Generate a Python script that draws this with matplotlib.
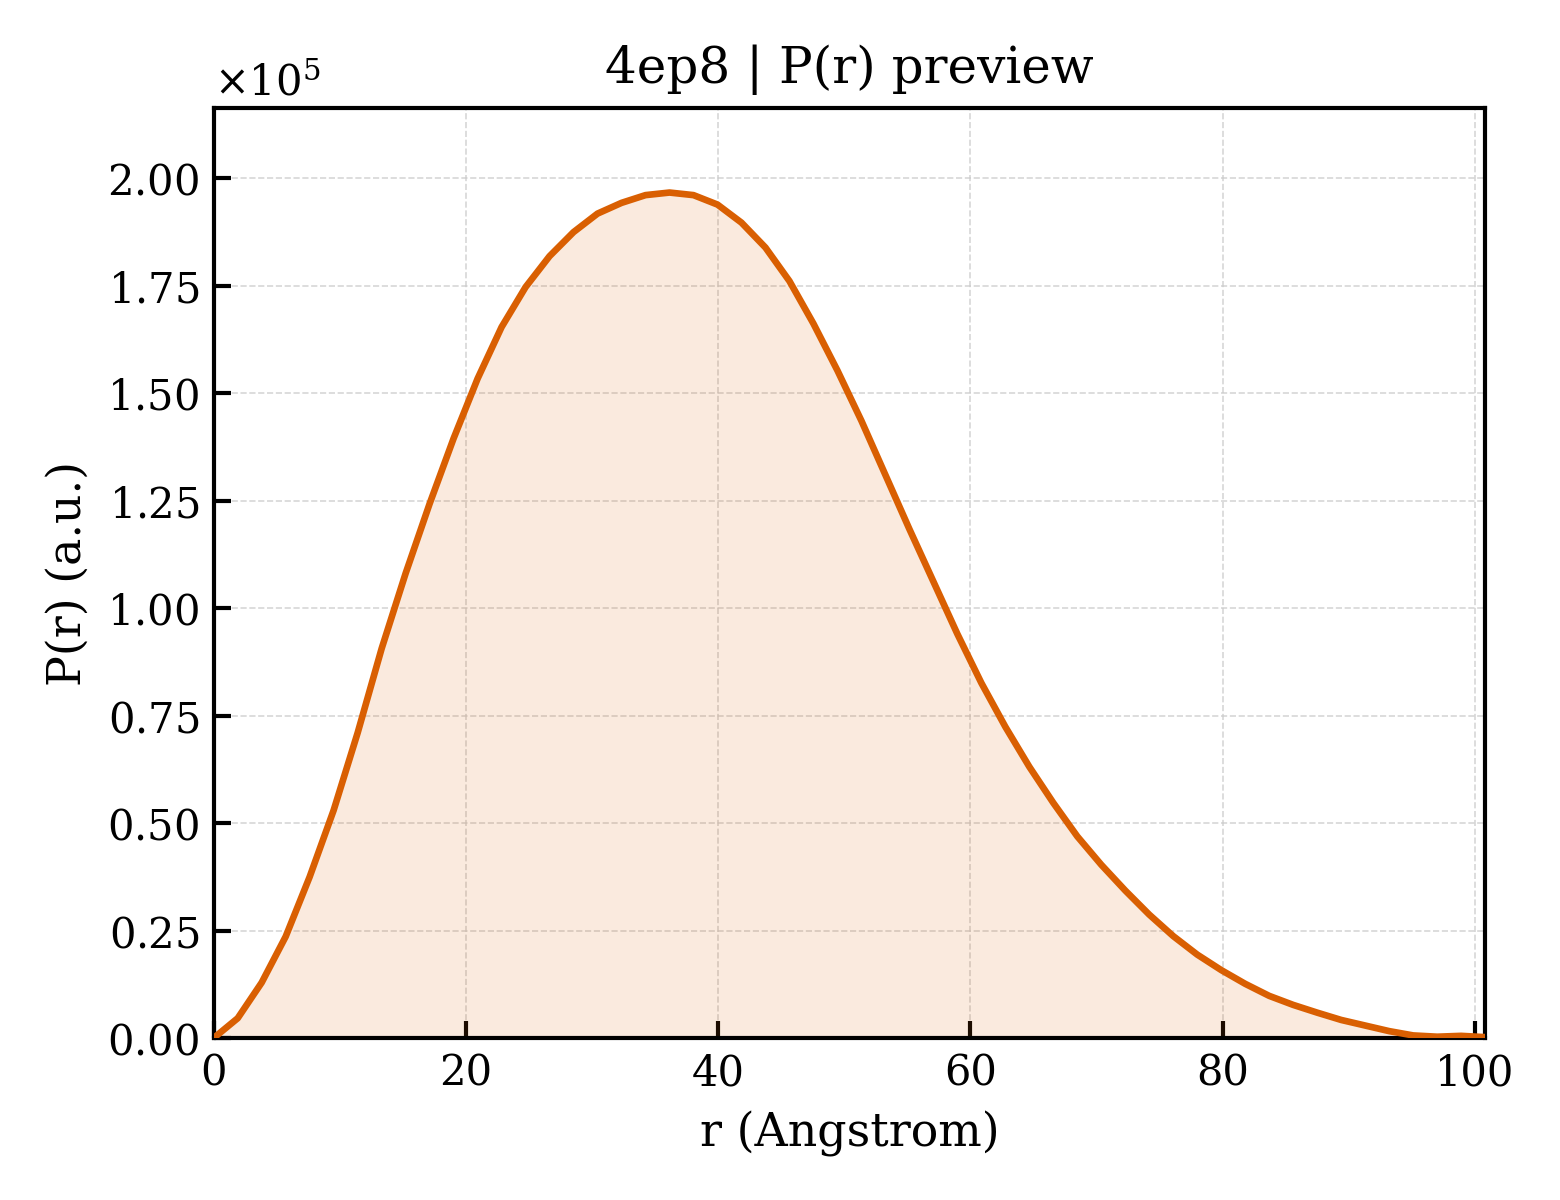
import numpy as np
import matplotlib
matplotlib.use("Agg")
import matplotlib.pyplot as plt
from matplotlib.ticker import ScalarFormatter

plt.rcParams['font.family'] = ['DejaVu Serif']
plt.rcParams['mathtext.fontset'] = 'dejavuserif'

step = 1.902
r = np.arange(54) * step
pr_scaled = [
    0.000, 0.046, 0.129, 0.236, 0.375, 0.530, 0.710, 0.906, 1.081, 1.243,
    1.395, 1.534, 1.654, 1.747, 1.819, 1.875, 1.918, 1.943, 1.961, 1.967,
    1.961, 1.939, 1.897, 1.839, 1.761, 1.662, 1.553, 1.436, 1.310, 1.184,
    1.062, 0.940, 0.826, 0.724, 0.631, 0.547, 0.469, 0.403, 0.343, 0.287,
    0.237, 0.194, 0.158, 0.126, 0.098, 0.077, 0.059, 0.042, 0.029, 0.016,
    0.006, 0.003, 0.005, 0.002,
]
pr = np.array(pr_scaled) * 1e5

title = "4ep8 | P(r) preview"
xlabel = "r (Angstrom)"
ylabel = "P(r) (a.u.)"
color = "#D95F02"

fig = plt.figure(figsize=(5.2, 4.0), dpi=300)
ax = fig.add_axes([0.137, 0.135, 0.815, 0.775])
ax.plot(r, pr, color=color, lw=1.6, zorder=3)
ax.fill_between(r, 0, pr, color=color, alpha=0.13, lw=0, zorder=2)
ax.set_xlim(0, r[-1])
ax.set_ylim(0, pr.max() * 1.1)
ax.set_xlabel(xlabel, fontsize=11)
ax.set_ylabel(ylabel, fontsize=11)
ax.set_title(title, fontsize=12)
ax.grid(True, ls='--', lw=0.4, color='#cccccc', alpha=0.8, zorder=0)
ax.tick_params(direction='in', labelsize=10, width=1.0, length=4)
for s in ax.spines.values():
    s.set_linewidth(1.0)
fmt = ScalarFormatter(useMathText=True)
fmt.set_powerlimits((0, 0))
ax.yaxis.set_major_formatter(fmt)
ax.yaxis.get_offset_text().set_fontsize(10)
fig.savefig("out.png", dpi=300)
